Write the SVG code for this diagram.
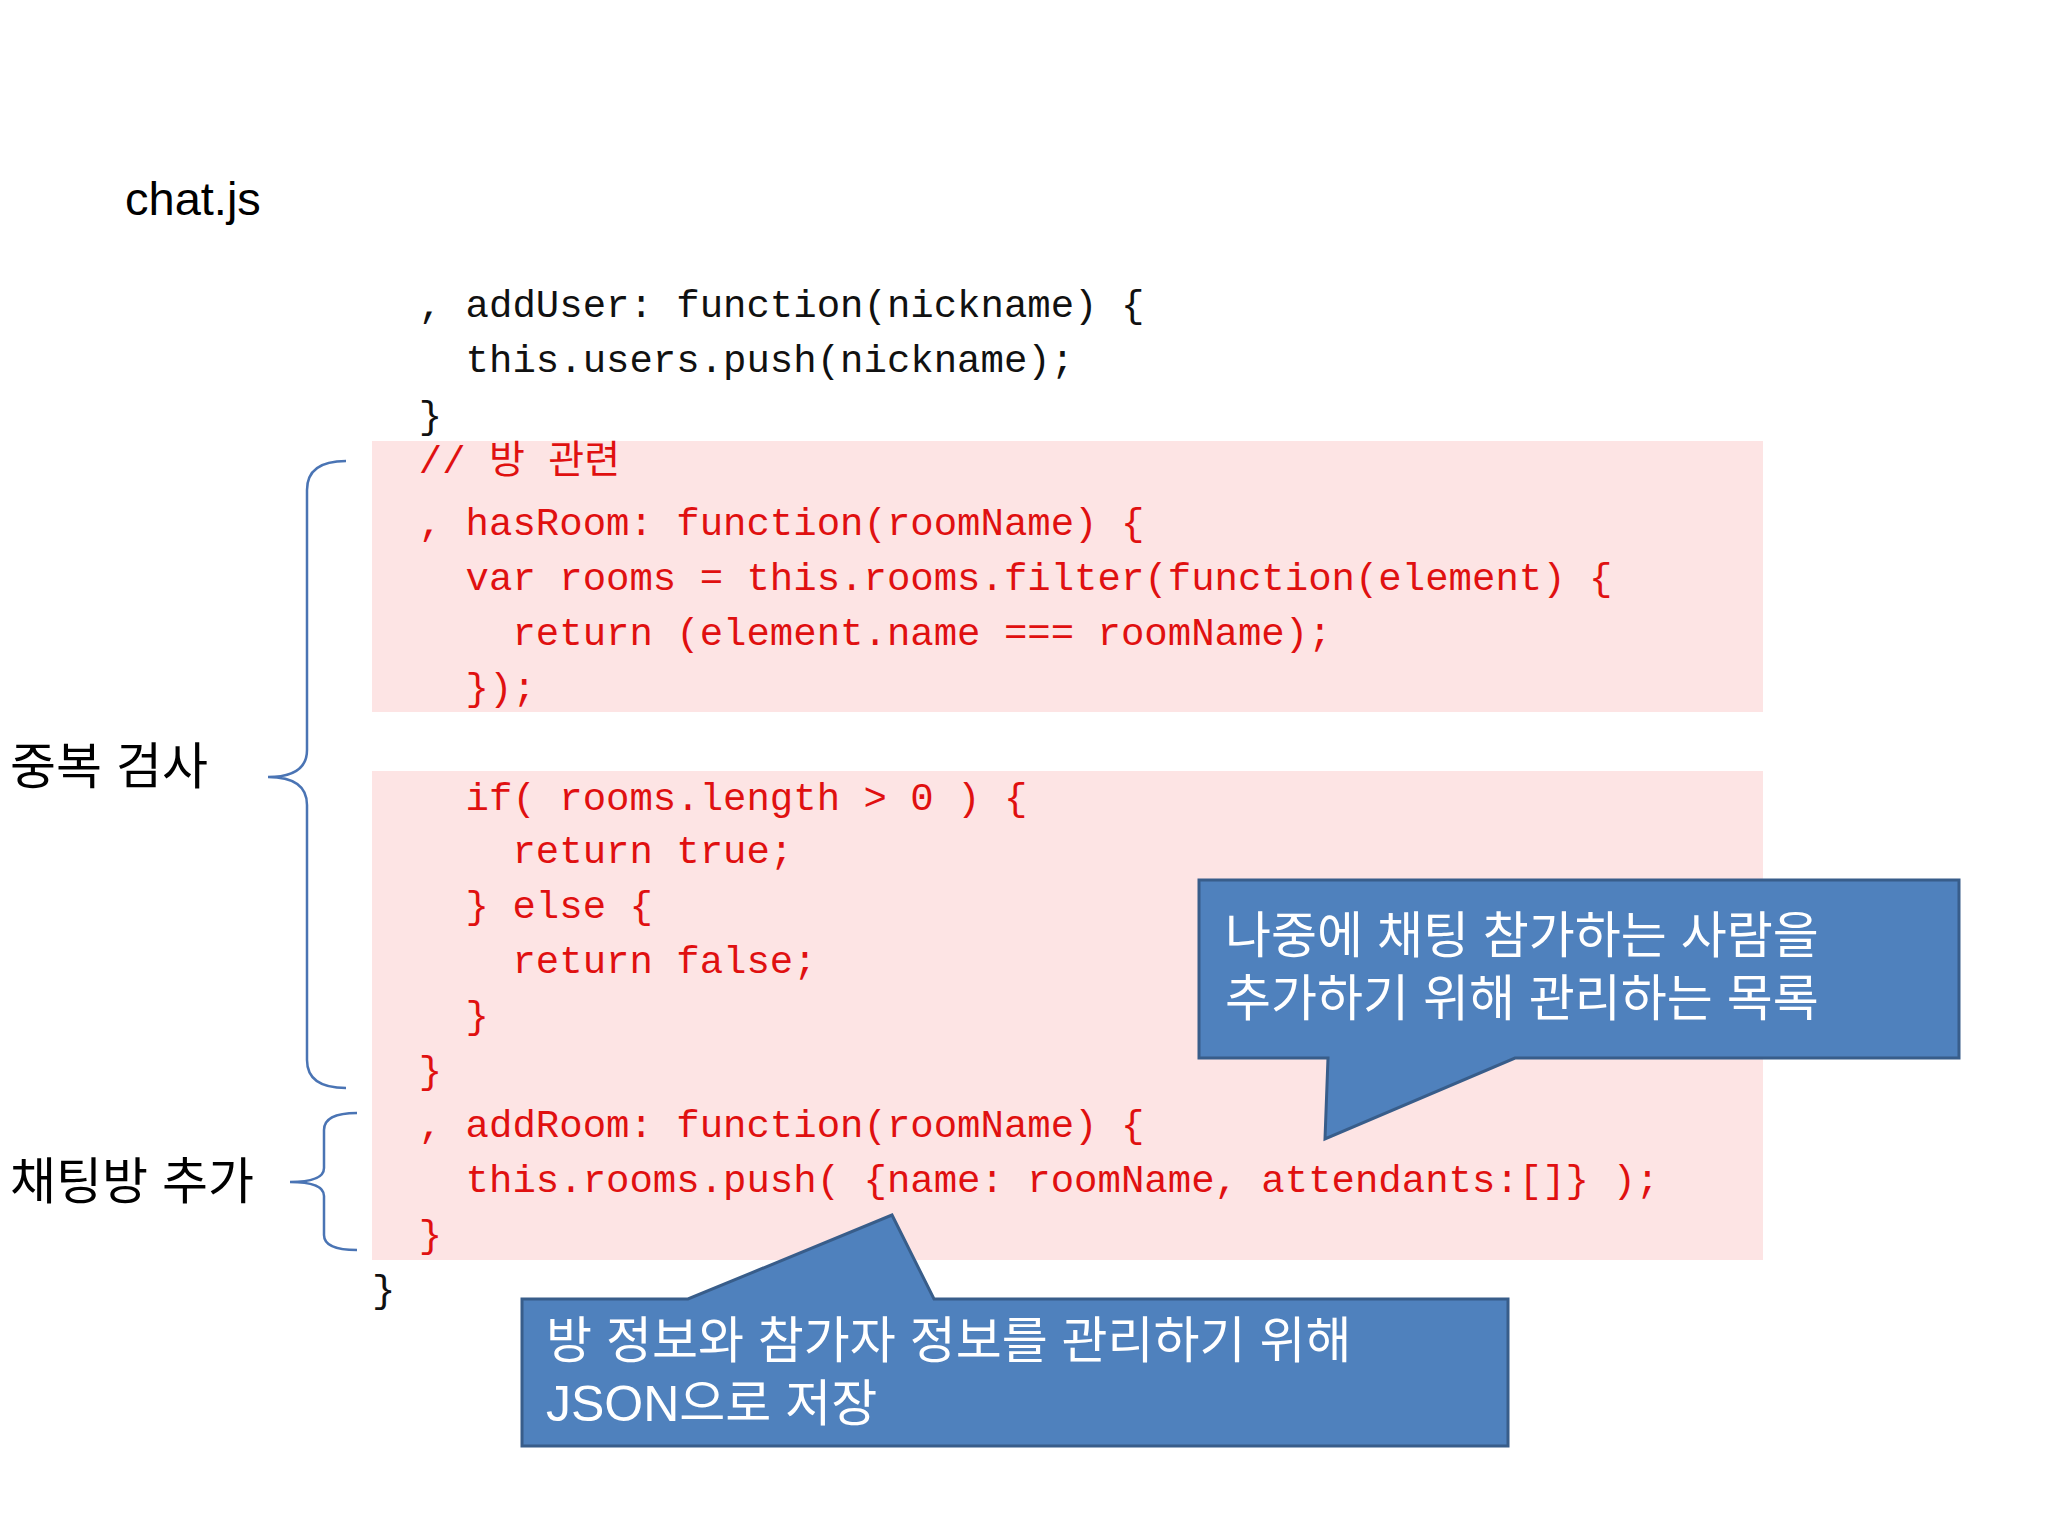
<svg xmlns="http://www.w3.org/2000/svg" width="2048" height="1536" viewBox="0 0 2048 1536">
<style>
.code{font-family:"Liberation Mono","Noto Sans CJK KR",monospace;font-size:39px;white-space:pre}
.blk{fill:#111}
.red{fill:#e01010}
.lbl{font-family:"Liberation Sans","Noto Sans CJK KR",sans-serif;font-size:50px;fill:#000}
.call{fill:#4f81bd;stroke:#385d8a;stroke-width:3}
.ct{font-family:"Liberation Sans","Noto Sans CJK KR",sans-serif;font-size:50px;fill:#fff}
.br{fill:none;stroke:#4a74b4;stroke-width:2.5}
</style>
<rect width="2048" height="1536" fill="#fff"/>
<text x="125" y="215" font-family="Liberation Sans, sans-serif" font-size="47" fill="#000">chat.js</text>
<g id="code">
<rect x="372" y="441" width="1391" height="271" fill="#fde4e4"/>
<rect x="372" y="771" width="1391" height="489" fill="#fde4e4"/>
<text class="code blk" x="372" y="317" xml:space="preserve">  , addUser: function(nickname) {</text>
<text class="code blk" x="372" y="372" xml:space="preserve">    this.users.push(nickname);</text>
<text class="code blk" x="372" y="428" xml:space="preserve">  }</text>
<text class="code red" x="372" y="473" xml:space="preserve">  // 방 관련</text>
<text class="code red" x="372" y="535" xml:space="preserve">  , hasRoom: function(roomName) {</text>
<text class="code red" x="372" y="590" xml:space="preserve">    var rooms = this.rooms.filter(function(element) {</text>
<text class="code red" x="372" y="645" xml:space="preserve">      return (element.name === roomName);</text>
<text class="code red" x="372" y="700" xml:space="preserve">    });</text>
<text class="code red" x="372" y="810" xml:space="preserve">    if( rooms.length &gt; 0 ) {</text>
<text class="code red" x="372" y="863" xml:space="preserve">      return true;</text>
<text class="code red" x="372" y="918" xml:space="preserve">    } else {</text>
<text class="code red" x="372" y="973" xml:space="preserve">      return false;</text>
<text class="code red" x="372" y="1028" xml:space="preserve">    }</text>
<text class="code red" x="372" y="1083" xml:space="preserve">  }</text>
<text class="code red" x="372" y="1137" xml:space="preserve">  , addRoom: function(roomName) {</text>
<text class="code red" x="372" y="1192" xml:space="preserve">    this.rooms.push( {name: roomName, attendants:[]} );</text>
<text class="code red" x="372" y="1247" xml:space="preserve">  }</text>
<text class="code blk" x="372" y="1302" xml:space="preserve">}</text>
</g>
<g id="connectors">
<path class="br" d="M346,461 Q307,461 307,490 L307,750 Q307,777 268,777 Q307,777 307,805 L307,1060 Q307,1088 346,1088"/>
<path class="br" d="M357,1113 Q324,1113 324,1130 L324,1168 Q324,1182 290,1182 Q324,1182 324,1196 L324,1235 Q324,1250 357,1250"/>
</g>
<g id="label1"><text class="lbl" x="10" y="784">중복 검사</text></g>
<g id="label2"><text class="lbl" x="10" y="1199">채팅방 추가</text></g>
<g id="callout1">
<path class="call" d="M1199,880 L1959,880 L1959,1058 L1515,1058 L1325,1139 L1328,1058 L1199,1058 Z"/>
<text class="ct" x="1225" y="953">나중에 채팅 참가하는 사람을</text>
<text class="ct" x="1225" y="1016">추가하기 위해 관리하는 목록</text>
</g>
<g id="callout2">
<path class="call" d="M522,1299 L688,1299 L892,1215 L934,1299 L1508,1299 L1508,1446 L522,1446 Z"/>
<text class="ct" x="546" y="1358">방 정보와 참가자 정보를 관리하기 위해</text>
<text class="ct" x="546" y="1421">JSON으로 저장</text>
</g>
</svg>
